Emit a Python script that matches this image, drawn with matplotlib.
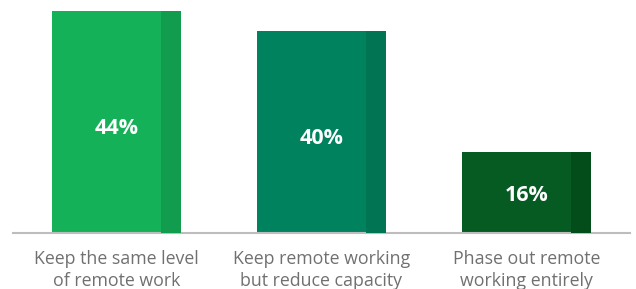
import matplotlib.pyplot as plt
import numpy as np

plt.rcParams['font.family'] = ['Open Sans', 'DejaVu Sans']

# data
categories = ['Keep the same level\nof remote work',
              'Keep remote working\nbut reduce capacity',
              'Phase out remote\nworking entirely']
values = [44, 40, 16]
labels = ['44%', '40%', '16%']
main_colors = ['#15B158', '#00825F', '#055B21']
edge_colors = ['#129D4E', '#007453', '#034D1B']

fig = plt.figure(figsize=(6.36, 2.89), dpi=100)
ax = fig.add_axes([13 / 636, 56 / 289, 617 / 636, 233 / 289])

x = np.arange(len(values))
w = 0.629      # bar width
sw = 0.0976    # darker strip on the right side

ax.bar(x, values, width=w, color=main_colors, linewidth=0, zorder=2)
ax.bar(x + w / 2 - sw / 2, values, width=sw, color=edge_colors, linewidth=0, zorder=3)

for xi, v, lab in zip(x, values, labels):
    ax.text(xi, v * 0.47, lab, ha='center', va='center', color='white',
            fontsize=15.5, fontweight='bold', zorder=4)

ax.set_xlim(-0.505, 2.505)
ax.set_ylim(0, 46.2)
ax.set_xticks(x)
ax.set_xticklabels(categories, fontsize=12.8, color='#707070', linespacing=1.28)
ax.tick_params(axis='x', length=0, pad=12)
ax.set_yticks([])
for s in ['top', 'left', 'right']:
    ax.spines[s].set_visible(False)
ax.spines['bottom'].set_color('#BDBDBD')
ax.spines['bottom'].set_linewidth(1.5)
ax.set_facecolor('none')

plt.savefig('out.png', dpi=100)
